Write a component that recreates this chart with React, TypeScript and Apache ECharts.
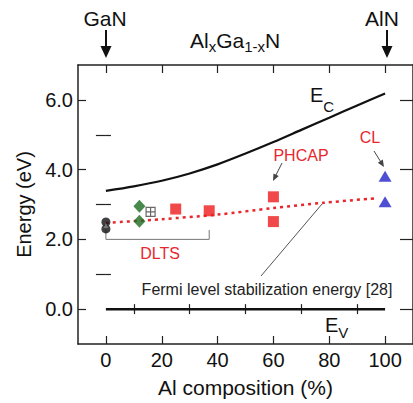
import React, { useEffect, useRef } from 'react';
import * as echarts from 'echarts';

// ---- data ----
const ecX = [0, 10, 20, 30, 40, 50, 60, 70, 80, 90, 100];
const ecY = [3.39, 3.52, 3.68, 3.89, 4.15, 4.46, 4.79, 5.14, 5.49, 5.84, 6.18];
const evX = [0, 100];
const evY = [0, 0];
const fermiX = [0, 20, 40, 60, 78, 97];
const fermiY = [2.47, 2.58, 2.71, 2.9, 3.05, 3.18];
const blackCircles = [[0, 2.5], [0, 2.3]];
const grayTriangle = [[0, 2.4]];
const greenDiamonds = [[12, 2.95], [12, 2.52]];
const boxedCross = [[16, 2.79]];
const redSquares = [[25, 2.87], [37, 2.82], [60, 3.22], [60, 2.51]];
const blueTriangles = [[100, 3.81], [100, 3.08]];
const dltsX = [0, 0, 37, 37];
const dltsY = [2.27, 2.0, 2.0, 2.27];
const xMajor = [0, 20, 40, 60, 80, 100];
const xMinor = [10, 30, 50, 70, 90];
const yMajor = [0, 2, 4, 6];
const yMinor = [1, 3, 5];

const FF = '"Liberation Sans", Arial, Helvetica, sans-serif';
const AX = '#222';
const RED = '#e8262d';

function zip(xs: number[], ys: number[]) {
  return xs.map((x, i) => [x, ys[i]]);
}

function measure(t: string, size: number) {
  const c = document.createElement('canvas').getContext('2d')!;
  c.font = `${size}px "Liberation Sans", Arial, sans-serif`;
  return c.measureText(t).width;
}

function subText(parts: [string, number, number][], x0: number, yMid: number, color: string) {
  const out: any[] = [];
  let x = x0;
  for (const [t, size, dy] of parts) {
    out.push({
      type: 'text',
      x,
      y: yMid + dy,
      style: { text: t, fontSize: size, fontFamily: FF, fill: color, align: 'left', verticalAlign: 'middle' },
      z: 10,
    });
    x += measure(t, size);
  }
  return out;
}

function arrow(x1: number, y1: number, x2: number, y2: number, head: number, hw: number, color: string, width: number) {
  const ang = Math.atan2(y2 - y1, x2 - x1);
  const hx = x2 - head * Math.cos(ang);
  const hy = y2 - head * Math.sin(ang);
  const px = -Math.sin(ang) * hw;
  const py = Math.cos(ang) * hw;
  return [
    { type: 'line', shape: { x1, y1, x2: hx + Math.cos(ang), y2: hy + Math.sin(ang) }, style: { stroke: color, lineWidth: width }, z: 10 },
    { type: 'polygon', shape: { points: [[x2, y2], [hx + px, hy + py], [hx - px, hy - py]] }, style: { fill: color }, z: 10 },
  ];
}

function centered(t: string, x: number, y: number, size: number, color: string) {
  return {
    type: 'text', x, y, z: 10,
    style: { text: t, fontSize: size, fontFamily: FF, fill: color, align: 'center', verticalAlign: 'middle' },
  };
}

export default function App() {
  const ref = useRef<HTMLDivElement>(null);
  useEffect(() => {
    const chart = echarts.init(ref.current!, null, { renderer: 'svg' });

    const xBase: any = {
      type: 'value', min: -10, max: 110, interval: 10,
      splitLine: { show: false },
      axisLine: { show: true, onZero: false, lineStyle: { color: AX, width: 1.5 } },
    };
    const yBase: any = {
      type: 'value', min: -1, max: 7, interval: 1,
      splitLine: { show: false },
      axisLine: { show: true, onZero: false, lineStyle: { color: AX, width: 1.5 } },
    };
    const tick = (vals: number[], len: number) => ({
      show: true, inside: true, length: len, customValues: vals, lineStyle: { color: AX, width: 1.2 },
    });

    const graphic: any[] = [
      centered('GaN', 105, 18, 21, '#111'),
      centered('AlN', 382, 18, 21, '#111'),
      ...arrow(106, 30, 106, 58, 12, 5.5, '#111', 2),
      ...arrow(387, 30, 387, 58, 12, 5.5, '#111', 2),
      ...subText([['Al', 21, 0], ['x', 15, 6], ['Ga', 21, 0], ['1-x', 15, 6], ['N', 21, 0]], 190, 40, '#111'),
      ...subText([['E', 20, 0], ['C', 15, 11]], 310, 95, '#111'),
      ...subText([['E', 20, 0], ['V', 15, 7]], 325, 325, '#111'),
      centered('PHCAP', 301, 155, 16, RED),
      ...arrow(282, 163, 273, 181, 7, 3, '#444', 1),
      centered('CL', 370, 137, 16, RED),
      ...arrow(374, 151, 384, 167, 7, 3, '#444', 1),
      centered('DLTS', 160, 253, 16, RED),
      centered('Fermi level stabilization energy [28]', 267, 289, 16, '#222'),
      { type: 'line', shape: { x1: 261, y1: 276, x2: 322, y2: 204 }, style: { stroke: '#555', lineWidth: 1 }, z: 10 },
    ];

    const option: any = {
      animation: false,
      backgroundColor: '#fff',
      grid: { left: 78, top: 65, right: -2, bottom: 58, containLabel: false },
      xAxis: [
        {
          ...xBase, position: 'bottom',
          axisTick: tick(xMajor, 8),
          axisLabel: { show: true, customValues: xMajor, fontSize: 20, color: '#111', fontFamily: FF, margin: 6 },
          name: 'Al composition (%)', nameLocation: 'middle', nameGap: 33,
          nameTextStyle: { fontSize: 21, color: '#111', fontFamily: FF },
        },
        { ...xBase, position: 'bottom', axisLine: { show: false }, axisTick: tick(xMinor, 5), axisLabel: { show: false } },
        { ...xBase, position: 'top', axisTick: tick(xMajor, 8), axisLabel: { show: false } },
        { ...xBase, position: 'top', axisLine: { show: false }, axisTick: tick(xMinor, 5), axisLabel: { show: false } },
      ],
      yAxis: [
        {
          ...yBase, position: 'left',
          axisTick: tick(yMajor, 8),
          axisLabel: {
            show: true, customValues: yMajor, fontSize: 20, color: '#111', fontFamily: FF, margin: 5,
            formatter: (v: number) => v.toFixed(1),
          },
          name: 'Energy (eV)', nameLocation: 'middle', nameGap: 41,
          nameTextStyle: { fontSize: 20, color: '#111', fontFamily: FF },
        },
        { ...yBase, position: 'left', axisLine: { show: false }, axisTick: tick(yMinor, 5), axisLabel: { show: false } },
        { ...yBase, position: 'right', axisTick: tick(yMajor, 13), axisLabel: { show: false } },
        { ...yBase, position: 'right', axisLine: { show: false }, axisTick: tick(yMinor, 10), axisLabel: { show: false } },
      ],
      series: [
        {
          name: 'Ec', type: 'line', data: zip(ecX, ecY), smooth: 0.3, showSymbol: false, symbol: 'none',
          lineStyle: { color: '#111', width: 2.2 }, z: 2,
        },
        {
          name: 'Ev', type: 'line', data: zip(evX, evY), showSymbol: false, symbol: 'none',
          lineStyle: { color: '#111', width: 2.5 }, z: 2,
        },
        {
          name: 'Fermi', type: 'line', data: zip(fermiX, fermiY), smooth: 0.3, showSymbol: false, symbol: 'none',
          lineStyle: { color: RED, width: 2.5, type: [3, 4] }, z: 2,
        },
        {
          name: 'DLTS bracket', type: 'line', data: zip(dltsX, dltsY), showSymbol: false, symbol: 'none',
          lineStyle: { color: '#777', width: 1 }, z: 1,
        },
        {
          name: 'black', type: 'scatter', data: blackCircles, symbol: 'circle', symbolSize: 9,
          itemStyle: { color: '#111' }, z: 5,
        },
        {
          name: 'grayTri', type: 'scatter', data: grayTriangle, symbol: 'triangle', symbolSize: 5,
          itemStyle: { color: '#888' }, z: 6,
        },
        {
          name: 'green', type: 'scatter', data: greenDiamonds, symbol: 'diamond', symbolSize: [12, 13],
          itemStyle: { color: '#1b6b22' }, z: 5,
        },
        {
          name: 'boxed', type: 'scatter', data: boxedCross,
          symbol: 'path://M0,0H10V10H0Z M5,0V10 M0,5H10', symbolSize: 9,
          itemStyle: { color: 'rgba(0,0,0,0)', borderColor: '#444', borderWidth: 1.2 }, z: 5,
        },
        {
          name: 'red', type: 'scatter', data: redSquares, symbol: 'rect', symbolSize: 11,
          itemStyle: { color: '#ee1c1c' }, z: 5,
        },
        {
          name: 'blue', type: 'scatter', data: blueTriangles, symbol: 'triangle', symbolSize: [13, 11],
          itemStyle: { color: '#2323c8' }, z: 5,
        },
      ],
      graphic,
    };
    chart.setOption(option);
    return () => chart.dispose();
  }, []);
  return (
    <div
      ref={ref}
      style={{ position: 'fixed', left: 0, top: 0, width: 413, height: 403, background: '#fff' }}
    />
  );
}
